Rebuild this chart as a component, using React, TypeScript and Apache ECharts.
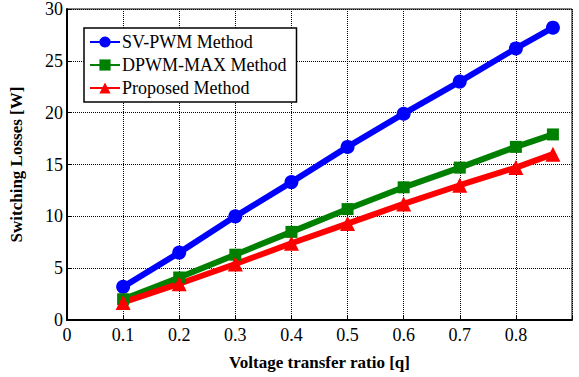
import React, { useEffect, useRef } from "react";
import * as echarts from "echarts";

const xValues = [0.1, 0.2, 0.3, 0.4, 0.5, 0.6, 0.7, 0.8, 0.866];
const svpwm = [3.2, 6.5, 10.0, 13.3, 16.7, 19.9, 23.0, 26.2, 28.2];
const dpwm = [2.0, 4.1, 6.3, 8.5, 10.7, 12.8, 14.7, 16.7, 17.9];
const proposed = [1.7, 3.5, 5.4, 7.4, 9.3, 11.2, 13.0, 14.7, 16.0];
const seriesNames = ["SV-PWM Method", "DPWM-MAX Method", "Proposed Method"];

const FONT = "'Liberation Serif', 'Times New Roman', serif";

export default function App() {
  const ref = useRef<HTMLDivElement>(null);
  useEffect(() => {
    const chart = echarts.init(ref.current!, undefined, { renderer: "svg" });
    const pair = (ys: number[]) => xValues.map((x, i) => [x, ys[i]]);
    const mk = (name: string, ys: number[], color: string, symbol: string, size: number) => ({
      name,
      type: "line",
      data: pair(ys),
      symbol,
      symbolSize: size,
      lineStyle: { color, width: 6 },
      itemStyle: { color },
      z: 3,
    });
    chart.setOption({
      animation: false,
      textStyle: { fontFamily: FONT },
      grid: { left: 66, right: 7, top: 9, bottom: 57, show: true, borderColor: "#000", borderWidth: 1 },
      legend: {
        data: seriesNames,
        orient: "vertical",
        left: 84,
        top: 28,
        width: 221,
        padding: [4, 10, 4, 5],
        itemGap: 3,
        itemWidth: 30,
        itemHeight: 14,
        backgroundColor: "#fff",
        borderColor: "#000",
        borderWidth: 1.5,
        borderRadius: 0,
        textStyle: { fontFamily: FONT, fontSize: 18, lineHeight: 20, color: "#000", padding: [0, 0, 0, -3] },
      },
      xAxis: {
        type: "value",
        min: 0,
        max: 0.9,
        interval: 0.1,
        name: "Voltage transfer ratio [q]",
        nameLocation: "middle",
        nameGap: 34,
        nameTextStyle: { fontFamily: FONT, fontSize: 17, fontWeight: "bold", color: "#000" },
        axisLine: { lineStyle: { color: "#000", width: 2 } },
        axisTick: { inside: true, length: 5, lineStyle: { color: "#000" } },
        axisLabel: {
          fontFamily: FONT,
          fontSize: 18,
          color: "#000",
          margin: 6,
          formatter: (v: number) => (v > 0.85 ? "" : String(Math.round(v * 10) / 10)),
        },
        splitLine: { show: true, lineStyle: { color: "#000", type: [1, 1], width: 1 } },
      },
      yAxis: {
        type: "value",
        min: 0,
        max: 30,
        interval: 5,
        name: "Switching Losses [W]",
        nameLocation: "middle",
        nameGap: 42,
        nameTextStyle: { fontFamily: FONT, fontSize: 17, fontWeight: "bold", color: "#000" },
        axisLine: { show: true, lineStyle: { color: "#000", width: 2 } },
        axisTick: { show: true, inside: true, length: 5, lineStyle: { color: "#000" } },
        axisLabel: { fontFamily: FONT, fontSize: 18, color: "#000", margin: 4 },
        splitLine: { show: true, lineStyle: { color: "#000", type: [1, 1], width: 1 } },
      },
      series: [
        mk(seriesNames[0], svpwm, "#0000ff", "circle", 14),
        mk(seriesNames[1], dpwm, "#008000", "rect", 12),
        mk(seriesNames[2], proposed, "#ff0000", "triangle", 15),
      ],
    });
    return () => chart.dispose();
  }, []);
  return <div ref={ref} style={{ width: 579, height: 377, position: "absolute", left: 0, top: 0, background: "#fff" }} />;
}
